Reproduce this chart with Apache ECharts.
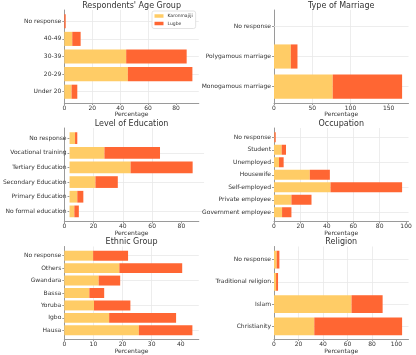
<!DOCTYPE html>
<html><head><meta charset="utf-8">
<script src="https://cdn.jsdelivr.net/npm/echarts@6/dist/echarts.min.js"></script>
<style>html,body{margin:0;padding:0;background:#fff}#c{width:416px;height:355px}</style>
</head><body><div id="c"></div>
<script>
// ---- data ----
const seriesNames = ['Karonmajiji', 'Lugbe'];

const ageTitle = "Respondents' Age Group";
const ageCats = ['Under 20', '20-29', '30-39', '40-49', 'No response'];
const ageK = [5.2, 45.5, 44.3, 5.7, 0];
const ageL = [4.1, 46.2, 43.3, 6.0, 1.0];
const ageTicks = [0, 20, 40, 60, 80];

const marTitle = 'Type of Marriage';
const marCats = ['Monogamous marriage', 'Polygamous marriage', 'No response'];
const marK = [76.8, 22.0, 0];
const marL = [90.7, 8.7, 0];
const marTicks = [0, 50, 100, 150];

const eduTitle = 'Level of Education';
const eduCats = ['No formal education', 'Primary Education', 'Secondary Education', 'Tertiary Education', 'Vocational training', 'No response'];
const eduK = [3.4, 5.5, 18.4, 43.4, 24.8, 3.9];
const eduL = [3.2, 4.3, 15.9, 44.1, 39.5, 1.6];
const eduTicks = [0, 20, 40, 60, 80];

const occTitle = 'Occupation';
const occCats = ['Government employee', 'Private employee', 'Self-employed', 'Housewife', 'Unemployed', 'Student', 'No response'];
const occK = [6.1, 13.2, 42.8, 27.1, 3.8, 5.8, 0.3];
const occL = [7.1, 15.2, 54.2, 15.2, 3.5, 3.3, 1.0];
const occTicks = [0, 20, 40, 60, 80, 100];

const ethTitle = 'Ethnic Group';
const ethCats = ['Hausa', 'Igbo', 'Yoruba', 'Bassa', 'Gwandara', 'Others', 'No response'];
const ethK = [25.6, 15.4, 10.2, 8.6, 11.8, 18.9, 9.9];
const ethL = [18.4, 23.0, 12.5, 5.1, 7.4, 21.6, 12.0];
const ethTicks = [0, 10, 20, 30, 40];

const relTitle = 'Religion';
const relCats = ['Christianity', 'Islam', 'Traditional religion', 'No response'];
const relK = [32.9, 63.3, 1.7, 2.2];
const relL = [71.7, 25.4, 1.6, 2.2];
const relTicks = [0, 20, 40, 60, 80, 100];

const xName = 'Percentage';

// ---- layout ----
const panels = [
  {title: ageTitle, cats: ageCats, k: ageK, l: ageL, ticks: ageTicks, x0: 64.3, top: 10, bottom: 103},
  {title: marTitle, cats: marCats, k: marK, l: marL, ticks: marTicks, x0: 274, top: 10, bottom: 103},
  {title: eduTitle, cats: eduCats, k: eduK, l: eduL, ticks: eduTicks, x0: 64.3, top: 128, bottom: 221.5},
  {title: occTitle, cats: occCats, k: occK, l: occL, ticks: occTicks, x0: 274, top: 128, bottom: 221.5},
  {title: ethTitle, cats: ethCats, k: ethK, l: ethL, ticks: ethTicks, x0: 64.3, top: 246.5, bottom: 339.5},
  {title: relTitle, cats: relCats, k: relK, l: relL, ticks: relTicks, x0: 274, top: 246.5, bottom: 339.5}
];
const W = 134.5;
const colors = ['#FFCC66', '#FF6633'];
const spine = '#9a9a9a';
const gridCol = '#e9e9e9';
const txt = '#333';
const FONT = 'DejaVu Sans';

const grid = [], xAxis = [], yAxis = [], series = [], title = [];
panels.forEach((p, i) => {
  const n = p.cats.length;
  const H = p.bottom - p.top;
  const u = H / ((n - 0.2) * 1.1);
  const extra = 0.05 * (n - 0.2) - 0.1;
  const totals = p.k.map((v, j) => v + p.l[j]);
  const xmax = 1.05 * Math.max(...totals);
  const interval = p.ticks[1] - p.ticks[0];
  grid.push({left: p.x0, top: p.top, width: W, height: H});
  grid.push({left: p.x0, top: p.top + extra * u, width: W, height: n * u});
  xAxis.push({
    gridIndex: 2 * i, type: 'value', min: 0, max: xmax, interval: interval,
    axisLine: {show: true, onZero: false, lineStyle: {color: spine, width: 1}},
    axisTick: {show: true, length: 2, lineStyle: {color: spine}, customValues: p.ticks},
    axisLabel: {fontSize: 6, margin: 2, color: txt, fontFamily: FONT, customValues: p.ticks},
    splitLine: {show: true, showMinLine: false, showMaxLine: false, lineStyle: {color: gridCol, width: 0.8}},
    name: xName, nameLocation: 'middle', nameGap: 7.5,
    nameTextStyle: {fontSize: 6, color: txt, fontFamily: FONT}
  });
  xAxis.push({gridIndex: 2 * i + 1, type: 'value', min: 0, max: xmax, show: false});
  yAxis.push({
    gridIndex: 2 * i, type: 'value', min: 0, max: 1, position: 'left',
    axisLine: {show: true, onZero: false, lineStyle: {color: spine, width: 1}},
    axisTick: {show: false}, axisLabel: {show: false}, splitLine: {show: false}
  });
  yAxis.push({
    gridIndex: 2 * i + 1, type: 'category', data: p.cats, position: 'left',
    axisLine: {show: false},
    axisTick: {show: true, length: 2, alignWithLabel: true, lineStyle: {color: spine}},
    axisLabel: {fontSize: 6, margin: 3, color: txt, fontFamily: FONT},
    splitLine: {show: false}
  });
  yAxis.push({
    gridIndex: 2 * i + 1, type: 'category', data: p.cats, position: 'left',
    axisLine: {show: false},
    axisTick: {show: true, inside: true, length: W, alignWithLabel: true, lineStyle: {color: gridCol, width: 0.8}},
    axisLabel: {show: false}, splitLine: {show: false}
  });
  [p.k, p.l].forEach((vals, s) => {
    series.push({
      type: 'bar', name: seriesNames[s], stack: 'st' + i,
      xAxisIndex: 2 * i + 1, yAxisIndex: 3 * i + 1,
      data: vals, barWidth: '80%',
      itemStyle: {color: colors[s]}, silent: true
    });
  });
  title.push({
    text: p.title, left: p.x0 + W / 2, top: p.top - 9, textAlign: 'center', padding: 0,
    textStyle: {fontSize: 8, lineHeight: 9, fontWeight: 'normal', color: txt, fontFamily: FONT}
  });
});

const chart = echarts.init(document.getElementById('c'), null, {renderer: 'canvas'});
chart.setOption({
  animation: false,
  textStyle: {fontFamily: FONT},
  title: title,
  grid: grid, xAxis: xAxis, yAxis: yAxis, series: series,
  legend: {
    data: seriesNames, orient: 'vertical', left: 152, top: 11,
    itemWidth: 9, itemHeight: 3.5, itemGap: 2.5, icon: 'rect',
    padding: [2.5, 3, 2.5, 2.5], borderColor: '#dcdcdc', borderWidth: 0.8, borderRadius: 2,
    backgroundColor: '#fff',
    textStyle: {fontSize: 4.5, color: txt, fontFamily: FONT, padding: [0, 0, 0, -1]}
  }
});
</script></body></html>
